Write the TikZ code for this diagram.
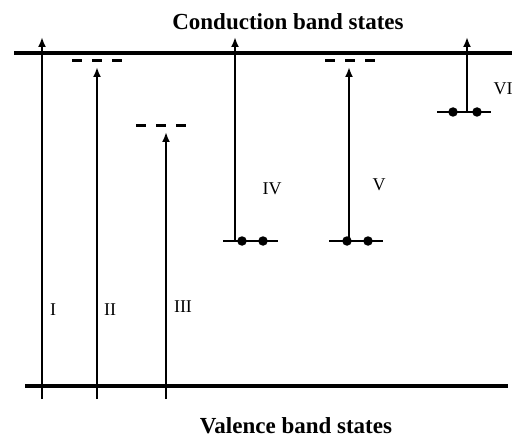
\documentclass[tikz,border=0pt]{standalone}
\usepackage{fontspec}
\setmainfont{Liberation Serif}
\usetikzlibrary{arrows.meta}
\begin{document}
\begin{tikzpicture}[x=1pt,y=-1pt,
  band/.style={line width=3.5pt},
  trans/.style={line width=2pt,-{Latex[length=10pt,width=8pt]}},
  trap/.style={line width=3pt,dash pattern=on 10pt off 10pt},
  lvl/.style={line width=2.5pt},
  dot/.style={circle,fill=black,inner sep=0pt,minimum size=9.5pt},
  lab/.style={font=\fontsize{18}{18}\selectfont,inner sep=0pt,anchor=base},
  ttl/.style={font=\fontsize{23}{23}\selectfont\bfseries,inner sep=0pt,anchor=base}]
\useasboundingbox (0,0) rectangle (516,438);
% band edges
\coordinate (cbL) at (14,53);
\coordinate (cbR) at (512,53);
\coordinate (vbL) at (25,386);
\coordinate (vbR) at (508,386);
\draw[band] (cbL) -- (cbR);
\draw[band] (vbL) -- (vbR);
\node[ttl] (ctitle) at (288,30) {Conduction band states};
\node[ttl] (vtitle) at (296,433) {Valence band states};
% trap levels (empty)
\coordinate (t2a) at (72,61);  \coordinate (t2b) at (122,61);
\coordinate (t3a) at (136,126); \coordinate (t3b) at (186,126);
\coordinate (t5a) at (325,61); \coordinate (t5b) at (375,61);
\draw[trap] (t2a) -- (t2b);
\draw[trap] (t3a) -- (t3b);
\draw[trap] (t5a) -- (t5b);
% occupied levels
\coordinate (l4a) at (223,241); \coordinate (l4b) at (278,241);
\coordinate (l5a) at (329,241); \coordinate (l5b) at (383,241);
\coordinate (l6a) at (437,112); \coordinate (l6b) at (491,112);
\draw[lvl] (l4a) -- (l4b);
\draw[lvl] (l5a) -- (l5b);
\draw[lvl] (l6a) -- (l6b);
\node[dot] (d4a) at (242,241) {};
\node[dot] (d4b) at (263,241) {};
\node[dot] (d5a) at (347,241) {};
\node[dot] (d5b) at (368,241) {};
\node[dot] (d6a) at (453,112) {};
\node[dot] (d6b) at (477,112) {};
% transitions
\coordinate (s1) at (42,399);  \coordinate (e1) at (42,37);
\coordinate (s2) at (97,399);  \coordinate (e2) at (97,67);
\coordinate (s3) at (166,399); \coordinate (e3) at (166,132);
\coordinate (s4) at (235,241); \coordinate (e4) at (235,37);
\coordinate (s5) at (349,241); \coordinate (e5) at (349,67);
\coordinate (s6) at (467,112); \coordinate (e6) at (467,37);
\draw[trans] (s1) -- (e1);
\draw[trans] (s2) -- (e2);
\draw[trans] (s3) -- (e3);
\draw[trans] (s4) -- (e4);
\draw[trans] (s5) -- (e5);
\draw[trans] (s6) -- (e6);
% labels
\node[lab] (n1) at (53,315) {I};
\node[lab] (n2) at (110,315) {II};
\node[lab] (n3) at (183,312) {III};
\node[lab] (n4) at (272,195) {IV};
\node[lab] (n5) at (379,191) {V};
\node[lab] (n6) at (503,95) {VI};
\end{tikzpicture}
\end{document}
